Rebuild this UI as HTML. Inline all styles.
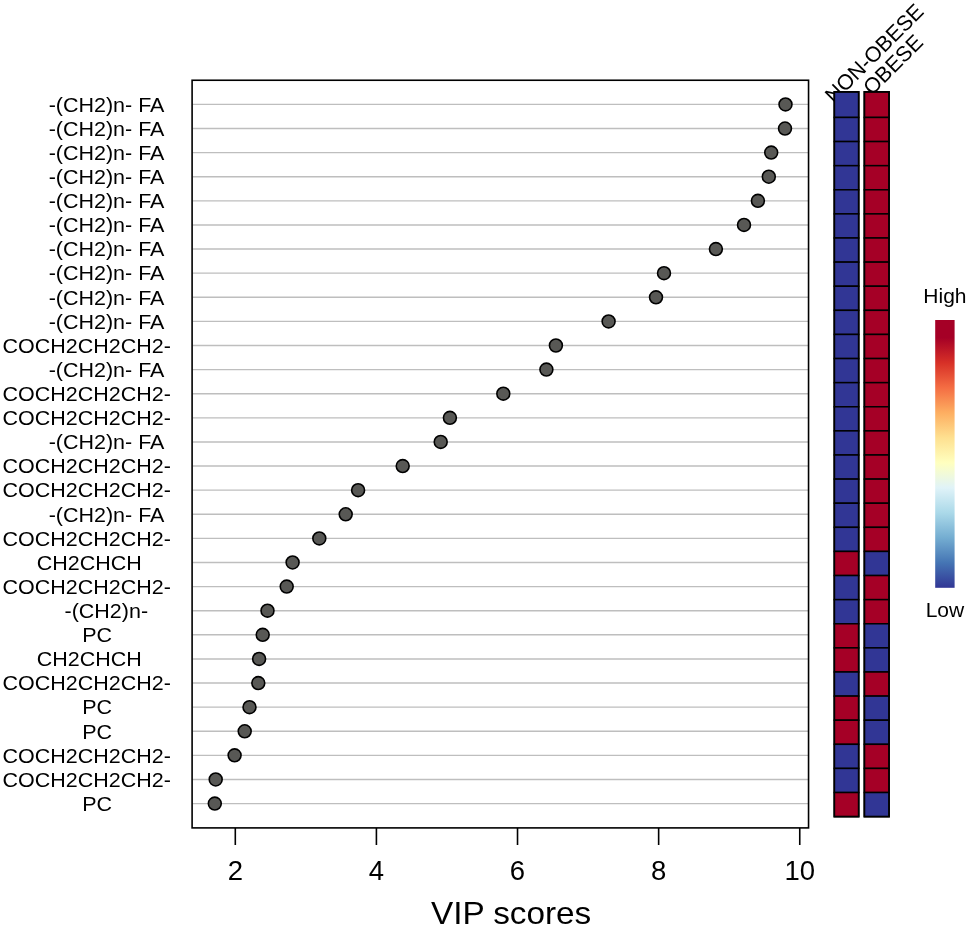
<!DOCTYPE html>
<html><head><meta charset="utf-8"><title>VIP scores</title>
<style>
html,body{margin:0;padding:0;background:#fff;}
body{width:968px;height:928px;overflow:hidden;}
svg{display:block;will-change:transform;}
text{font-family:"Liberation Sans",sans-serif;fill:#000;}
.yl{font-size:21.5px;}
.xt{font-size:27.5px;text-anchor:middle;}
.ttl{font-size:33.3px;text-anchor:middle;}
.lg{font-size:21px;text-anchor:middle;}
.g{stroke:#bebebe;stroke-width:1.4;}
.p{fill:#585855;stroke:#000;stroke-width:1.6;}
.c{stroke:#000;stroke-width:1.5;}
</style></head><body>
<svg width="968" height="928" viewBox="0 0 968 928">
<defs><linearGradient id="rb" x1="0" y1="0" x2="0" y2="1">
<stop offset="0" stop-color="#A50026"/><stop offset="0.0660" stop-color="#A50026"/><stop offset="0.1594" stop-color="#D73027"/><stop offset="0.2528" stop-color="#F46D43"/>
<stop offset="0.3462" stop-color="#FDAE61"/><stop offset="0.4396" stop-color="#FEE090"/><stop offset="0.5330" stop-color="#FFFFBF"/>
<stop offset="0.6264" stop-color="#E0F3F8"/><stop offset="0.7198" stop-color="#ABD9E9"/><stop offset="0.8132" stop-color="#74ADD1"/>
<stop offset="0.9066" stop-color="#4575B4"/><stop offset="1.0000" stop-color="#313695"/></linearGradient></defs>
<rect width="968" height="928" fill="#fff"/>

<line class="g" x1="192.5" y1="104.40" x2="808" y2="104.40"/>
<line class="g" x1="192.5" y1="128.51" x2="808" y2="128.51"/>
<line class="g" x1="192.5" y1="152.62" x2="808" y2="152.62"/>
<line class="g" x1="192.5" y1="176.73" x2="808" y2="176.73"/>
<line class="g" x1="192.5" y1="200.84" x2="808" y2="200.84"/>
<line class="g" x1="192.5" y1="224.95" x2="808" y2="224.95"/>
<line class="g" x1="192.5" y1="249.06" x2="808" y2="249.06"/>
<line class="g" x1="192.5" y1="273.17" x2="808" y2="273.17"/>
<line class="g" x1="192.5" y1="297.28" x2="808" y2="297.28"/>
<line class="g" x1="192.5" y1="321.39" x2="808" y2="321.39"/>
<line class="g" x1="192.5" y1="345.50" x2="808" y2="345.50"/>
<line class="g" x1="192.5" y1="369.61" x2="808" y2="369.61"/>
<line class="g" x1="192.5" y1="393.72" x2="808" y2="393.72"/>
<line class="g" x1="192.5" y1="417.83" x2="808" y2="417.83"/>
<line class="g" x1="192.5" y1="441.94" x2="808" y2="441.94"/>
<line class="g" x1="192.5" y1="466.05" x2="808" y2="466.05"/>
<line class="g" x1="192.5" y1="490.16" x2="808" y2="490.16"/>
<line class="g" x1="192.5" y1="514.27" x2="808" y2="514.27"/>
<line class="g" x1="192.5" y1="538.38" x2="808" y2="538.38"/>
<line class="g" x1="192.5" y1="562.49" x2="808" y2="562.49"/>
<line class="g" x1="192.5" y1="586.60" x2="808" y2="586.60"/>
<line class="g" x1="192.5" y1="610.71" x2="808" y2="610.71"/>
<line class="g" x1="192.5" y1="634.82" x2="808" y2="634.82"/>
<line class="g" x1="192.5" y1="658.93" x2="808" y2="658.93"/>
<line class="g" x1="192.5" y1="683.04" x2="808" y2="683.04"/>
<line class="g" x1="192.5" y1="707.15" x2="808" y2="707.15"/>
<line class="g" x1="192.5" y1="731.26" x2="808" y2="731.26"/>
<line class="g" x1="192.5" y1="755.37" x2="808" y2="755.37"/>
<line class="g" x1="192.5" y1="779.48" x2="808" y2="779.48"/>
<line class="g" x1="192.5" y1="803.59" x2="808" y2="803.59"/>
<rect x="192.1" y="80.25" width="616.45" height="747.65" fill="none" stroke="#000" stroke-width="1.6"/>
<line x1="235.30" y1="828" x2="235.30" y2="845" stroke="#000" stroke-width="1.6"/>
<text class="xt" x="235.30" y="879.8">2</text>
<line x1="376.41" y1="828" x2="376.41" y2="845" stroke="#000" stroke-width="1.6"/>
<text class="xt" x="376.41" y="879.8">4</text>
<line x1="517.52" y1="828" x2="517.52" y2="845" stroke="#000" stroke-width="1.6"/>
<text class="xt" x="517.52" y="879.8">6</text>
<line x1="658.64" y1="828" x2="658.64" y2="845" stroke="#000" stroke-width="1.6"/>
<text class="xt" x="658.64" y="879.8">8</text>
<line x1="799.75" y1="828" x2="799.75" y2="845" stroke="#000" stroke-width="1.6"/>
<text class="xt" x="799.75" y="879.8">10</text>
<circle class="p" cx="785.5" cy="104.40" r="6.45"/>
<circle class="p" cx="785.0" cy="128.51" r="6.45"/>
<circle class="p" cx="771.2" cy="152.62" r="6.45"/>
<circle class="p" cx="768.8" cy="176.73" r="6.45"/>
<circle class="p" cx="757.9" cy="200.84" r="6.45"/>
<circle class="p" cx="744.0" cy="224.95" r="6.45"/>
<circle class="p" cx="715.9" cy="249.06" r="6.45"/>
<circle class="p" cx="664.0" cy="273.17" r="6.45"/>
<circle class="p" cx="656.0" cy="297.28" r="6.45"/>
<circle class="p" cx="608.6" cy="321.39" r="6.45"/>
<circle class="p" cx="555.9" cy="345.50" r="6.45"/>
<circle class="p" cx="546.4" cy="369.61" r="6.45"/>
<circle class="p" cx="503.3" cy="393.72" r="6.45"/>
<circle class="p" cx="449.9" cy="417.83" r="6.45"/>
<circle class="p" cx="440.7" cy="441.94" r="6.45"/>
<circle class="p" cx="402.7" cy="466.05" r="6.45"/>
<circle class="p" cx="358.1" cy="490.16" r="6.45"/>
<circle class="p" cx="345.7" cy="514.27" r="6.45"/>
<circle class="p" cx="319.3" cy="538.38" r="6.45"/>
<circle class="p" cx="292.6" cy="562.49" r="6.45"/>
<circle class="p" cx="286.7" cy="586.60" r="6.45"/>
<circle class="p" cx="267.5" cy="610.71" r="6.45"/>
<circle class="p" cx="262.7" cy="634.82" r="6.45"/>
<circle class="p" cx="259.1" cy="658.93" r="6.45"/>
<circle class="p" cx="258.3" cy="683.04" r="6.45"/>
<circle class="p" cx="249.5" cy="707.15" r="6.45"/>
<circle class="p" cx="244.7" cy="731.26" r="6.45"/>
<circle class="p" cx="234.6" cy="755.37" r="6.45"/>
<circle class="p" cx="215.7" cy="779.48" r="6.45"/>
<circle class="p" cx="214.8" cy="803.59" r="6.45"/>
<text class="yl" transform="translate(48.65,111.70) scale(1,0.965)">-(CH2)n- FA</text>
<text class="yl" transform="translate(48.65,135.81) scale(1,0.965)">-(CH2)n- FA</text>
<text class="yl" transform="translate(48.65,159.92) scale(1,0.965)">-(CH2)n- FA</text>
<text class="yl" transform="translate(48.65,184.03) scale(1,0.965)">-(CH2)n- FA</text>
<text class="yl" transform="translate(48.65,208.14) scale(1,0.965)">-(CH2)n- FA</text>
<text class="yl" transform="translate(48.65,232.25) scale(1,0.965)">-(CH2)n- FA</text>
<text class="yl" transform="translate(48.65,256.36) scale(1,0.965)">-(CH2)n- FA</text>
<text class="yl" transform="translate(48.65,280.47) scale(1,0.965)">-(CH2)n- FA</text>
<text class="yl" transform="translate(48.65,304.58) scale(1,0.965)">-(CH2)n- FA</text>
<text class="yl" transform="translate(48.65,328.69) scale(1,0.965)">-(CH2)n- FA</text>
<text class="yl" transform="translate(2.60,352.80) scale(1,0.965)">COCH2CH2CH2-</text>
<text class="yl" transform="translate(48.65,376.91) scale(1,0.965)">-(CH2)n- FA</text>
<text class="yl" transform="translate(2.60,401.02) scale(1,0.965)">COCH2CH2CH2-</text>
<text class="yl" transform="translate(2.60,425.13) scale(1,0.965)">COCH2CH2CH2-</text>
<text class="yl" transform="translate(48.65,449.24) scale(1,0.965)">-(CH2)n- FA</text>
<text class="yl" transform="translate(2.60,473.35) scale(1,0.965)">COCH2CH2CH2-</text>
<text class="yl" transform="translate(2.60,497.46) scale(1,0.965)">COCH2CH2CH2-</text>
<text class="yl" transform="translate(48.65,521.57) scale(1,0.965)">-(CH2)n- FA</text>
<text class="yl" transform="translate(2.60,545.68) scale(1,0.965)">COCH2CH2CH2-</text>
<text class="yl" transform="translate(36.75,569.79) scale(1,0.965)">CH2CHCH</text>
<text class="yl" transform="translate(2.60,593.90) scale(1,0.965)">COCH2CH2CH2-</text>
<text class="yl" transform="translate(64.50,618.01) scale(1,0.965)">-(CH2)n-</text>
<text class="yl" transform="translate(82.20,642.12) scale(1,0.965)">PC</text>
<text class="yl" transform="translate(36.75,666.23) scale(1,0.965)">CH2CHCH</text>
<text class="yl" transform="translate(2.60,690.34) scale(1,0.965)">COCH2CH2CH2-</text>
<text class="yl" transform="translate(82.20,714.45) scale(1,0.965)">PC</text>
<text class="yl" transform="translate(82.20,738.56) scale(1,0.965)">PC</text>
<text class="yl" transform="translate(2.60,762.67) scale(1,0.965)">COCH2CH2CH2-</text>
<text class="yl" transform="translate(2.60,786.78) scale(1,0.965)">COCH2CH2CH2-</text>
<text class="yl" transform="translate(82.20,810.89) scale(1,0.965)">PC</text>
<text class="ttl" transform="translate(511.1,923.7) scale(1,0.96)">VIP scores</text>
<text class="yl" transform="translate(833.7,104.1) rotate(-45)">NON-OBESE</text>
<text class="yl" transform="translate(872.0,96.0) rotate(-45)">OBESE</text>
<rect class="c" x="834.3" y="91.85" width="24.4" height="25.61" fill="#313695"/>
<rect class="c" x="864.35" y="91.85" width="24.7" height="25.61" fill="#A50026"/>
<rect class="c" x="834.3" y="117.45" width="24.4" height="24.11" fill="#313695"/>
<rect class="c" x="864.35" y="117.45" width="24.7" height="24.11" fill="#A50026"/>
<rect class="c" x="834.3" y="141.56" width="24.4" height="24.11" fill="#313695"/>
<rect class="c" x="864.35" y="141.56" width="24.7" height="24.11" fill="#A50026"/>
<rect class="c" x="834.3" y="165.68" width="24.4" height="24.11" fill="#313695"/>
<rect class="c" x="864.35" y="165.68" width="24.7" height="24.11" fill="#A50026"/>
<rect class="c" x="834.3" y="189.78" width="24.4" height="24.11" fill="#313695"/>
<rect class="c" x="864.35" y="189.78" width="24.7" height="24.11" fill="#A50026"/>
<rect class="c" x="834.3" y="213.89" width="24.4" height="24.11" fill="#313695"/>
<rect class="c" x="864.35" y="213.89" width="24.7" height="24.11" fill="#A50026"/>
<rect class="c" x="834.3" y="238.00" width="24.4" height="24.11" fill="#313695"/>
<rect class="c" x="864.35" y="238.00" width="24.7" height="24.11" fill="#A50026"/>
<rect class="c" x="834.3" y="262.12" width="24.4" height="24.11" fill="#313695"/>
<rect class="c" x="864.35" y="262.12" width="24.7" height="24.11" fill="#A50026"/>
<rect class="c" x="834.3" y="286.23" width="24.4" height="24.11" fill="#313695"/>
<rect class="c" x="864.35" y="286.23" width="24.7" height="24.11" fill="#A50026"/>
<rect class="c" x="834.3" y="310.34" width="24.4" height="24.11" fill="#313695"/>
<rect class="c" x="864.35" y="310.34" width="24.7" height="24.11" fill="#A50026"/>
<rect class="c" x="834.3" y="334.44" width="24.4" height="24.11" fill="#313695"/>
<rect class="c" x="864.35" y="334.44" width="24.7" height="24.11" fill="#A50026"/>
<rect class="c" x="834.3" y="358.55" width="24.4" height="24.11" fill="#313695"/>
<rect class="c" x="864.35" y="358.55" width="24.7" height="24.11" fill="#A50026"/>
<rect class="c" x="834.3" y="382.66" width="24.4" height="24.11" fill="#313695"/>
<rect class="c" x="864.35" y="382.66" width="24.7" height="24.11" fill="#A50026"/>
<rect class="c" x="834.3" y="406.77" width="24.4" height="24.11" fill="#313695"/>
<rect class="c" x="864.35" y="406.77" width="24.7" height="24.11" fill="#A50026"/>
<rect class="c" x="834.3" y="430.88" width="24.4" height="24.11" fill="#313695"/>
<rect class="c" x="864.35" y="430.88" width="24.7" height="24.11" fill="#A50026"/>
<rect class="c" x="834.3" y="455.00" width="24.4" height="24.11" fill="#313695"/>
<rect class="c" x="864.35" y="455.00" width="24.7" height="24.11" fill="#A50026"/>
<rect class="c" x="834.3" y="479.11" width="24.4" height="24.11" fill="#313695"/>
<rect class="c" x="864.35" y="479.11" width="24.7" height="24.11" fill="#A50026"/>
<rect class="c" x="834.3" y="503.22" width="24.4" height="24.11" fill="#313695"/>
<rect class="c" x="864.35" y="503.22" width="24.7" height="24.11" fill="#A50026"/>
<rect class="c" x="834.3" y="527.33" width="24.4" height="24.11" fill="#313695"/>
<rect class="c" x="864.35" y="527.33" width="24.7" height="24.11" fill="#A50026"/>
<rect class="c" x="834.3" y="551.43" width="24.4" height="24.11" fill="#A50026"/>
<rect class="c" x="864.35" y="551.43" width="24.7" height="24.11" fill="#313695"/>
<rect class="c" x="834.3" y="575.54" width="24.4" height="24.11" fill="#313695"/>
<rect class="c" x="864.35" y="575.54" width="24.7" height="24.11" fill="#A50026"/>
<rect class="c" x="834.3" y="599.65" width="24.4" height="24.11" fill="#313695"/>
<rect class="c" x="864.35" y="599.65" width="24.7" height="24.11" fill="#A50026"/>
<rect class="c" x="834.3" y="623.76" width="24.4" height="24.11" fill="#A50026"/>
<rect class="c" x="864.35" y="623.76" width="24.7" height="24.11" fill="#313695"/>
<rect class="c" x="834.3" y="647.88" width="24.4" height="24.11" fill="#A50026"/>
<rect class="c" x="864.35" y="647.88" width="24.7" height="24.11" fill="#313695"/>
<rect class="c" x="834.3" y="671.99" width="24.4" height="24.11" fill="#313695"/>
<rect class="c" x="864.35" y="671.99" width="24.7" height="24.11" fill="#A50026"/>
<rect class="c" x="834.3" y="696.10" width="24.4" height="24.11" fill="#A50026"/>
<rect class="c" x="864.35" y="696.10" width="24.7" height="24.11" fill="#313695"/>
<rect class="c" x="834.3" y="720.21" width="24.4" height="24.11" fill="#A50026"/>
<rect class="c" x="864.35" y="720.21" width="24.7" height="24.11" fill="#313695"/>
<rect class="c" x="834.3" y="744.32" width="24.4" height="24.11" fill="#313695"/>
<rect class="c" x="864.35" y="744.32" width="24.7" height="24.11" fill="#A50026"/>
<rect class="c" x="834.3" y="768.42" width="24.4" height="24.11" fill="#313695"/>
<rect class="c" x="864.35" y="768.42" width="24.7" height="24.11" fill="#A50026"/>
<rect class="c" x="834.3" y="792.53" width="24.4" height="24.11" fill="#A50026"/>
<rect class="c" x="864.35" y="792.53" width="24.7" height="24.11" fill="#313695"/>
<rect x="834.3" y="91.85" width="24.4" height="724.79" fill="none" stroke="#000" stroke-width="1.7"/>
<rect x="864.35" y="91.85" width="24.7" height="724.79" fill="none" stroke="#000" stroke-width="1.7"/>
<rect x="935.2" y="320" width="19.4" height="267.8" fill="url(#rb)"/>
<text class="lg" x="944.9" y="303.4">High</text>
<text class="lg" x="944.9" y="617">Low</text>
</svg></body></html>
